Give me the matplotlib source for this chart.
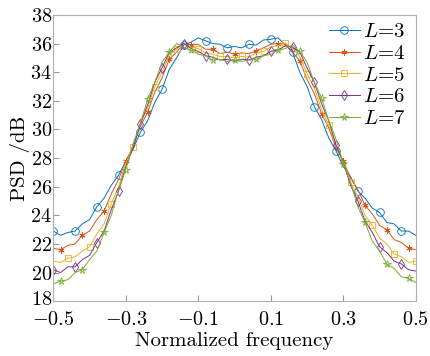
import numpy as np
import matplotlib
matplotlib.use('Agg')
import matplotlib.pyplot as plt
import matplotlib.transforms as mtransforms

plt.rcParams.update({
    'font.family': 'serif',
    'font.serif': ['cmr10', 'DejaVu Serif'],
    'mathtext.fontset': 'cm',
    'axes.formatter.use_mathtext': True,
    'axes.unicode_minus': True,
})

# normalized frequency grid (step 0.02)
freq = np.linspace(-0.5, 0.5, 51)

psd_L3 = [22.9, 22.6, 22.8, 22.9, 23.4, 23.7, 24.6, 25.2, 26.1, 26.8,
          27.8, 28.6, 29.8, 30.6, 31.9, 32.8, 34.2, 35.0, 35.9, 36.1,
          36.4, 36.2, 36.0, 35.95, 35.7, 35.8, 35.7, 35.95, 35.9, 36.25,
          36.3, 36.4, 35.9, 35.4, 34.0, 33.0, 31.6, 30.7, 29.4, 28.5,
          27.4, 26.7, 25.7, 25.2, 24.5, 24.2, 23.5, 23.4, 22.9, 22.9, 22.6]
psd_L4 = [21.7, 21.6, 21.9, 22.0, 22.6, 22.9, 23.7, 24.3, 25.5, 26.5,
          27.8, 28.8, 30.2, 31.2, 32.6, 33.6, 34.9, 35.4, 36.0, 35.9,
          35.95, 35.6, 35.6, 35.3, 35.4, 35.25, 35.35, 35.3, 35.5, 35.7,
          35.95, 36.0, 35.95, 35.4, 34.8, 33.5, 32.5, 31.1, 30.1, 28.7,
          27.8, 26.6, 25.8, 24.7, 24.1, 23.3, 23.0, 22.3, 22.1, 21.7, 21.6]
psd_L5 = [20.8, 20.7, 21.0, 21.1, 21.5, 21.8, 22.7, 23.4, 24.8, 26.0,
          27.6, 28.8, 30.4, 31.5, 33.0, 34.0, 35.2, 35.6, 36.0, 35.75,
          35.65, 35.35, 35.25, 35.1, 35.1, 35.0, 35.1, 35.05, 35.35, 35.45,
          35.75, 35.85, 36.05, 35.65, 35.1, 33.9, 32.9, 31.4, 30.3, 28.8,
          27.7, 26.3, 25.3, 24.0, 23.3, 22.4, 22.0, 21.3, 21.1, 20.7, 20.8]
psd_L6 = [20.2, 20.0, 20.4, 20.4, 20.9, 21.2, 22.1, 22.9, 24.4, 25.7,
          27.4, 28.7, 30.4, 31.7, 33.3, 34.3, 35.4, 35.7, 36.0, 35.65,
          35.45, 35.15, 35.05, 34.85, 34.9, 34.75, 34.9, 34.85, 35.05, 35.15,
          35.45, 35.55, 35.85, 35.75, 35.4, 34.3, 33.3, 31.8, 30.6, 28.9,
          27.7, 26.1, 25.0, 23.6, 22.8, 21.8, 21.4, 20.8, 20.6, 20.2, 20.1]
psd_L7 = [19.2, 19.4, 19.5, 20.0, 20.2, 20.9, 21.5, 22.8, 24.0, 25.8,
          27.2, 29.0, 30.4, 32.1, 33.3, 34.7, 35.4, 36.0, 35.75, 35.55,
          35.25, 35.15, 34.85, 34.9, 34.75, 34.85, 34.75, 34.85, 34.9, 35.15,
          35.25, 35.55, 35.65, 35.9, 35.45, 34.7, 33.3, 32.2, 30.6, 29.3,
          27.6, 26.3, 24.6, 23.5, 22.2, 21.5, 20.6, 20.3, 19.7, 19.6, 19.3]

labels = [r'$L$=3', r'$L$=4', r'$L$=5', r'$L$=6', r'$L$=7']
series = [psd_L3, psd_L4, psd_L5, psd_L6, psd_L7]
colors = ['#0072BD', '#D95319', '#EDB120', '#7E2F8E', '#77AC30']
markers = ['o', (6, 2, 0), 's', 'd', '*']
msizes = [5.5, 4.5, 4.5, 5, 5.5]

fig = plt.figure(figsize=(4.3, 3.56), dpi=100)
ax = fig.add_axes([0.124, 0.154, 0.843, 0.804])

for i, (vals, lab) in enumerate(zip(series, labels)):
    ax.plot(freq, vals, color=colors[i], lw=0.7, marker=markers[i],
            ms=msizes[i], mfc='none', mew=0.6, markevery=(i % 3, 3), label=lab)

ax.set_xlim(-0.5, 0.5)
ax.set_ylim(18, 38)
ax.set_xticks([-0.5, -0.3, -0.1, 0.1, 0.3, 0.5])
ax.set_yticks(np.arange(18, 39, 2))
ax.tick_params(direction='in', length=4, color='#999999', labelsize=14.5)
ax.tick_params(axis='x', pad=7)
ax.tick_params(axis='y', pad=1)
for s in ax.spines.values():
    s.set_color('#b0b0b0')
    s.set_linewidth(0.8)

# nudge the lowest y label up a little so it clears the -0.5 label
lbl18 = ax.yaxis.get_major_ticks()[0].label1
lbl18.set_transform(lbl18.get_transform() +
                    mtransforms.ScaledTranslation(0, 3 / 100, fig.dpi_scale_trans))

ax.set_xlabel('Normalized frequency', fontsize=15, labelpad=2)
ax.set_ylabel('PSD /dB', fontsize=15, labelpad=0)

ax.legend(loc='upper right', frameon=False, fontsize=15, handlelength=1.5,
          handletextpad=0.15, labelspacing=0.15, borderaxespad=0.1,
          bbox_to_anchor=(1.0, 1.01))

fig.savefig('out.png', dpi=100)
